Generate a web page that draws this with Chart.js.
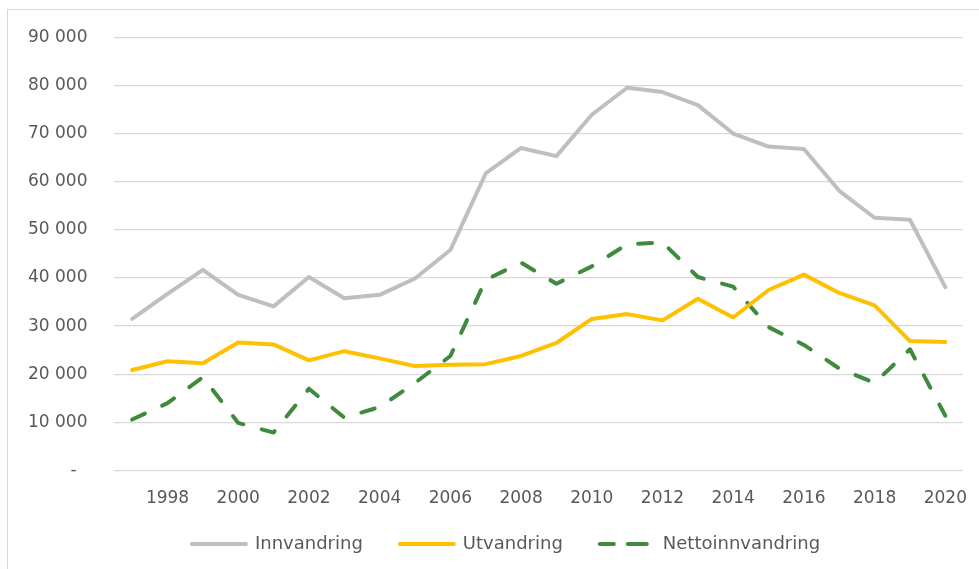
<!DOCTYPE html>
<html>
<head>
<meta charset="utf-8">
<script src="https://cdn.jsdelivr.net/npm/chart.js@4/dist/chart.umd.min.js"></script>
<style>
  html, body { margin: 0; padding: 0; background: #fff; }
  #frame {
    position: absolute; left: 7px; top: 9px; width: 990px; height: 580px;
    border-left: 1px solid #d9d9d9; border-top: 1px solid #d9d9d9;
  }
  #canvas-migration { position: absolute; left: 0; top: 0; }
</style>
</head>
<body>
<div id="frame"></div>
<canvas id="canvas-migration" width="979" height="569"></canvas>
<script>
const years = [
  1997, 1998, 1999, 2000, 2001, 2002, 2003, 2004, 2005, 2006, 2007, 2008,
  2009, 2010, 2011, 2012, 2013, 2014, 2015, 2016, 2017, 2018, 2019, 2020,
]

const innvandring = [
  31500, 36700, 41700, 36500, 34100, 40200, 35800, 36500, 39900, 45800, 61700, 67000,
  65300, 73900, 79500, 78600, 75900, 70000, 67300, 66800, 58100, 52500, 52100, 38100,
]

const utvandring = [
  20900, 22700, 22300, 26600, 26200, 22900, 24800, 23300, 21700, 22000, 22100, 23800,
  26500, 31500, 32500, 31200, 35700, 31800, 37500, 40700, 36900, 34300, 26900, 26700,
]

const nettoinnvandring = [
  10600, 14000, 19400, 9900, 7900, 17000, 11000, 13200, 18200, 23800, 39600, 43200,
  38800, 42400, 47000, 47400, 40200, 38200, 29800, 26100, 21200, 18200, 25200, 11400,
]

const seriesLabels = ['Innvandring', 'Utvandring', 'Nettoinnvandring']

const textColor = '#595959'
const fontFamily = "'DejaVu Sans', Verdana, sans-serif"

function formatThousands(value) {
  if (value === 0) return '-\u2007'
  return String(value).replace(/\B(?=(\d{3})+(?!\d))/g, ' ')
}

const datasets = [
  {
    label: seriesLabels[0],
    data: innvandring,
    borderColor: '#bfbfbf',
    backgroundColor: '#bfbfbf',
    borderWidth: 4,
    borderCapStyle: 'round',
  },
  {
    label: seriesLabels[1],
    data: utvandring,
    borderColor: '#ffc000',
    backgroundColor: '#ffc000',
    borderWidth: 4,
    borderCapStyle: 'round',
  },
  {
    label: seriesLabels[2],
    data: nettoinnvandring,
    borderColor: '#3f8a3c',
    backgroundColor: '#3f8a3c',
    borderWidth: 4,
    borderDash: [14, 19],
    borderCapStyle: 'round',
  },
]

// legend sits a bit right of the canvas centre in the original
const legendShift = {
  id: 'legendShift',
  afterLayout(chart) {
    chart.legend.left += 24
    chart.legend.right += 24
  },
}

const config = {
  type: 'line',
  data: { labels: years, datasets },
  plugins: [legendShift],
  options: {
    responsive: false,
    animation: false,
    elements: {
      point: { radius: 0 },
      line: { tension: 0, borderJoinStyle: 'round' },
    },
    layout: {
      padding: { left: 1, right: 16, top: 33, bottom: 6 },
    },
    plugins: {
      tooltip: { enabled: false },
      legend: {
        position: 'bottom',
        labels: {
          color: textColor,
          boxWidth: 54,
          boxHeight: 0,
          padding: 16,
          font: { family: fontFamily, size: 18 },
          generateLabels: function (chart) {
            const items = Chart.defaults.plugins.legend.labels.generateLabels(chart)
            // wider gap after each entry except the last
            items.forEach((item, i) => {
              if (i < items.length - 1) item.text += '\u2003\u2006'
            })
            return items
          },
        },
      },
    },
    scales: {
      x: {
        offset: true,
        grid: { display: false },
        border: { display: false },
        ticks: {
          autoSkip: false,
          maxRotation: 0,
          padding: 10,
          color: textColor,
          font: { family: fontFamily, size: 17 },
          callback: function (value, index) {
            const year = years[index]
            return year % 2 === 0 ? String(year) : ''
          },
        },
      },
      y: {
        min: 0,
        max: 90000,
        grid: { color: '#d9d9d9', lineWidth: 1.3, drawTicks: false },
        border: { display: false },
        ticks: {
          stepSize: 10000,
          padding: 27,
          color: textColor,
          font: { family: fontFamily, size: 17 },
          callback: (value) => formatThousands(value),
        },
      },
    },
  },
}

window.chart = new Chart(
  document.getElementById('canvas-migration').getContext('2d'),
  config
)
</script>
</body>
</html>
